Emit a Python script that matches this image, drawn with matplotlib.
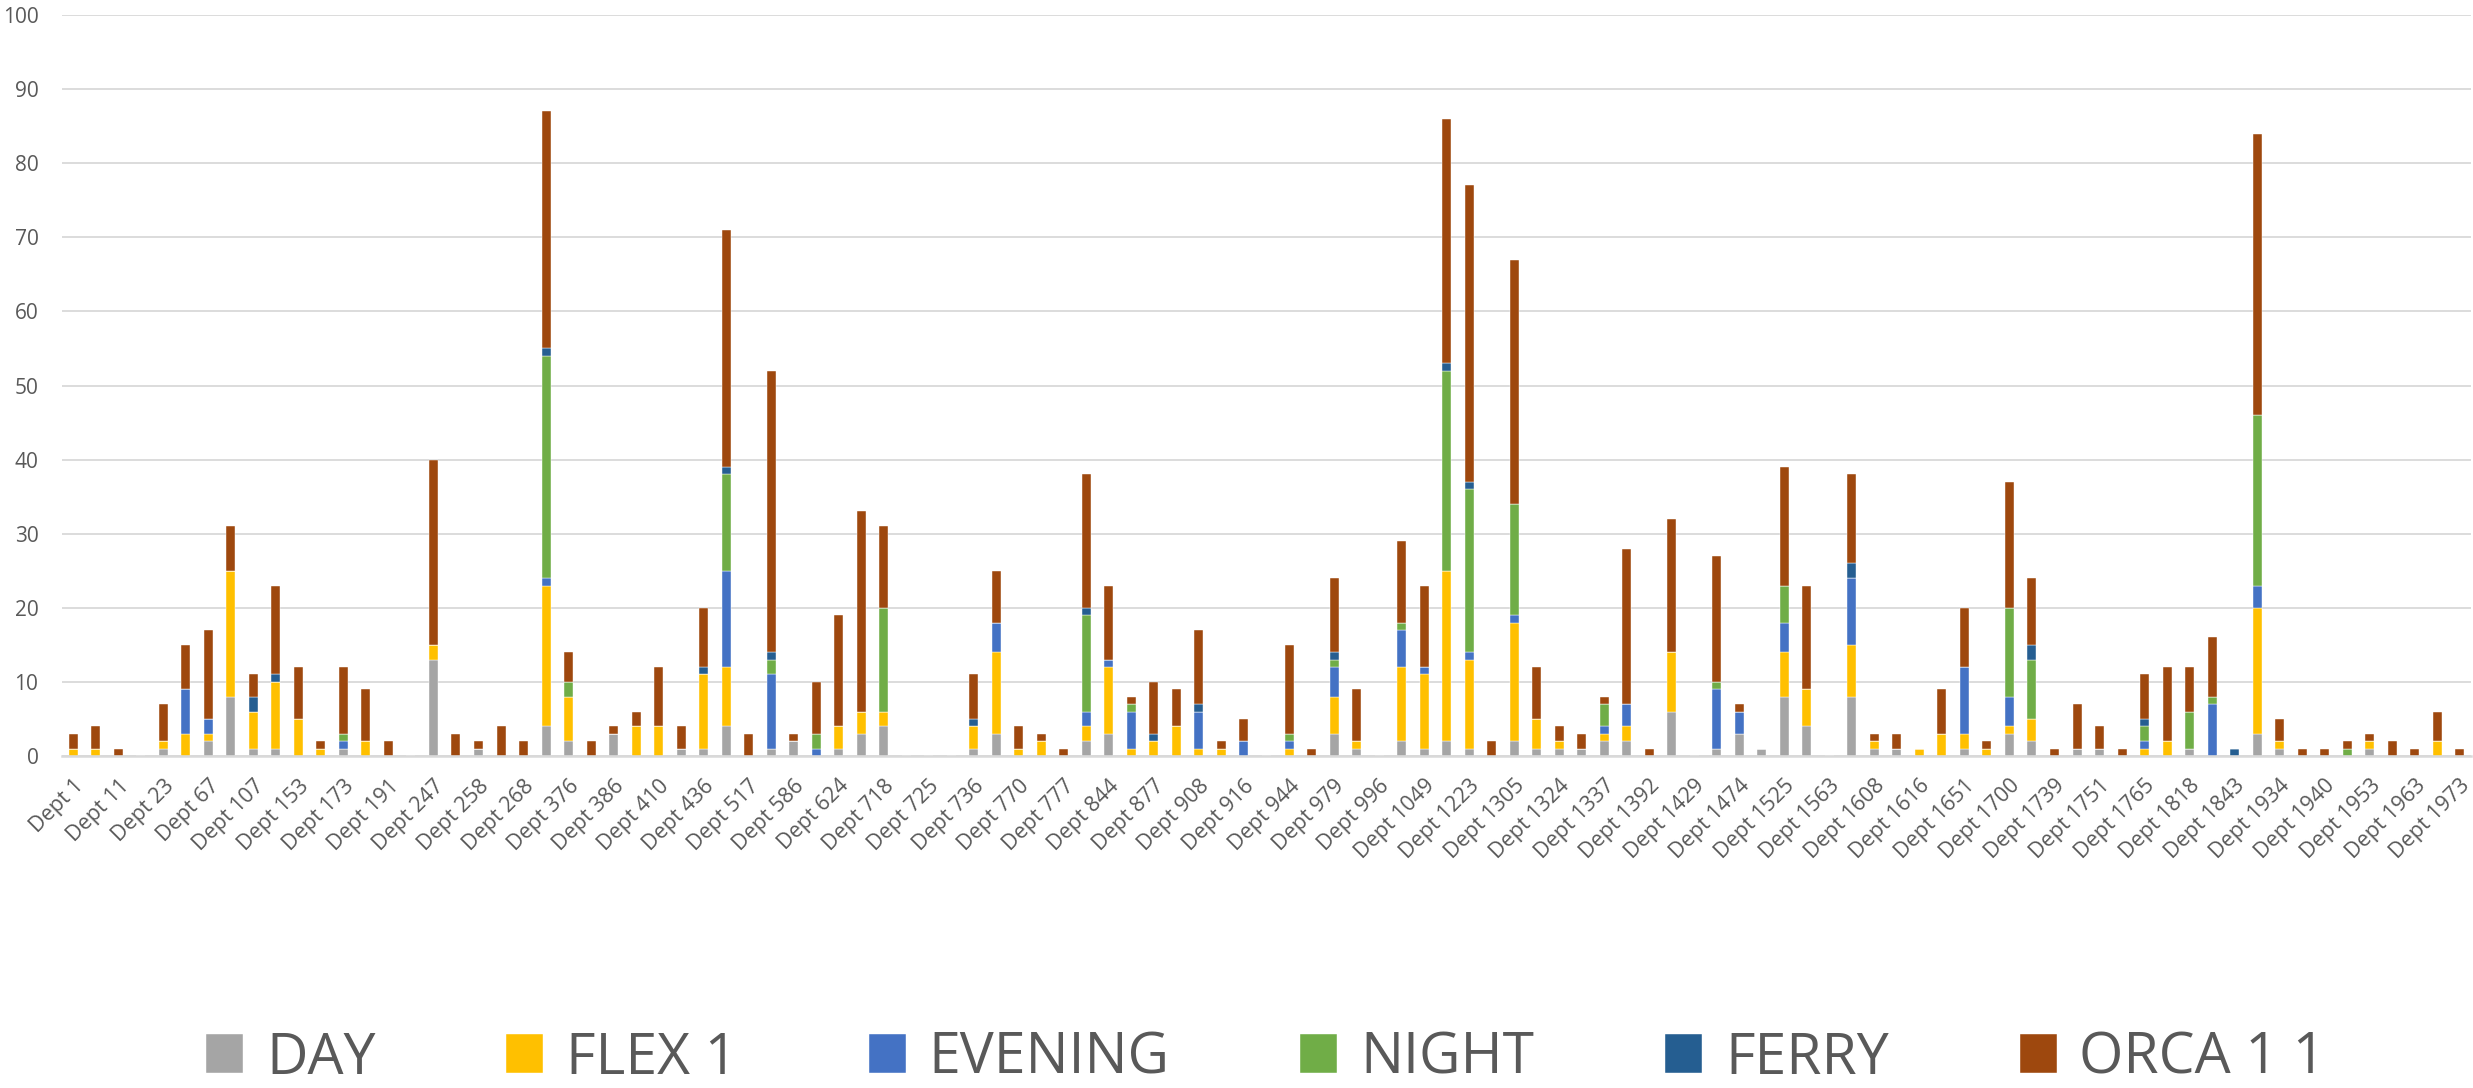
import matplotlib
matplotlib.use("Agg")
import matplotlib.pyplot as plt
import numpy as np

plt.rcParams['font.family'] = ['Open Sans', 'DejaVu Sans']

categories = [
    "Dept 1", "Dept 5", "Dept 11", "Dept 19", "Dept 23", "Dept 45", "Dept 67", "Dept 89", "Dept 107", "Dept 130",
    "Dept 153", "Dept 160", "Dept 173", "Dept 180", "Dept 191", "Dept 220", "Dept 247", "Dept 250", "Dept 258", "Dept 262",
    "Dept 268", "Dept 300", "Dept 376", "Dept 380", "Dept 386", "Dept 400", "Dept 410", "Dept 420", "Dept 436", "Dept 480",
    "Dept 517", "Dept 550", "Dept 586", "Dept 600", "Dept 624", "Dept 700", "Dept 718", "Dept 720", "Dept 725", "Dept 730",
    "Dept 736", "Dept 750", "Dept 770", "Dept 773", "Dept 777", "Dept 800", "Dept 844", "Dept 860", "Dept 877", "Dept 890",
    "Dept 908", "Dept 912", "Dept 916", "Dept 930", "Dept 944", "Dept 960", "Dept 979", "Dept 990", "Dept 996", "Dept 1020",
    "Dept 1049", "Dept 1150", "Dept 1223", "Dept 1260", "Dept 1305", "Dept 1310", "Dept 1324", "Dept 1330", "Dept 1337", "Dept 1360",
    "Dept 1392", "Dept 1410", "Dept 1429", "Dept 1450", "Dept 1474", "Dept 1500", "Dept 1525", "Dept 1540", "Dept 1563", "Dept 1590",
    "Dept 1608", "Dept 1612", "Dept 1616", "Dept 1630", "Dept 1651", "Dept 1680", "Dept 1700", "Dept 1720", "Dept 1739", "Dept 1745",
    "Dept 1751", "Dept 1760", "Dept 1765", "Dept 1790", "Dept 1818", "Dept 1830", "Dept 1843", "Dept 1900", "Dept 1934", "Dept 1937",
    "Dept 1940", "Dept 1945", "Dept 1953", "Dept 1958", "Dept 1963", "Dept 1970", "Dept 1973",
]

day = [0, 0, 0, 0, 1, 0, 2, 8, 1, 1,
       0, 0, 1, 0, 0, 0, 13, 0, 1, 0,
       0, 4, 2, 0, 3, 0, 0, 1, 1, 4,
       0, 1, 2, 0, 1, 3, 4, 0, 0, 0,
       1, 3, 0, 0, 0, 2, 3, 0, 0, 0,
       0, 0, 0, 0, 0, 0, 3, 1, 0, 2,
       1, 2, 1, 0, 2, 1, 1, 1, 2, 2,
       0, 6, 0, 1, 3, 1, 8, 4, 0, 8,
       1, 1, 0, 0, 1, 0, 3, 2, 0, 1,
       1, 0, 0, 0, 1, 0, 0, 3, 1, 0,
       0, 0, 1, 0, 0, 0, 0]

flex1 = [1, 1, 0, 0, 1, 3, 1, 17, 5, 9,
         5, 1, 0, 2, 0, 0, 2, 0, 0, 0,
         0, 19, 6, 0, 0, 4, 4, 0, 10, 8,
         0, 0, 0, 0, 3, 3, 2, 0, 0, 0,
         3, 11, 1, 2, 0, 2, 9, 1, 2, 4,
         1, 1, 0, 0, 1, 0, 5, 1, 0, 10,
         10, 23, 12, 0, 16, 4, 1, 0, 1, 2,
         0, 8, 0, 0, 0, 0, 6, 5, 0, 7,
         1, 0, 1, 3, 2, 1, 1, 3, 0, 0,
         0, 0, 1, 2, 0, 0, 0, 17, 1, 0,
         0, 0, 1, 0, 0, 2, 0]

evening = [0, 0, 0, 0, 0, 6, 2, 0, 0, 0,
           0, 0, 1, 0, 0, 0, 0, 0, 0, 0,
           0, 1, 0, 0, 0, 0, 0, 0, 0, 13,
           0, 10, 0, 1, 0, 0, 0, 0, 0, 0,
           0, 4, 0, 0, 0, 2, 1, 5, 0, 0,
           5, 0, 2, 0, 1, 0, 4, 0, 0, 5,
           1, 0, 1, 0, 1, 0, 0, 0, 1, 3,
           0, 0, 0, 8, 3, 0, 4, 0, 0, 9,
           0, 0, 0, 0, 9, 0, 4, 0, 0, 0,
           0, 0, 1, 0, 0, 7, 0, 3, 0, 0,
           0, 0, 0, 0, 0, 0, 0]

night = [0, 0, 0, 0, 0, 0, 0, 0, 0, 0,
         0, 0, 1, 0, 0, 0, 0, 0, 0, 0,
         0, 30, 2, 0, 0, 0, 0, 0, 0, 13,
         0, 2, 0, 2, 0, 0, 14, 0, 0, 0,
         0, 0, 0, 0, 0, 13, 0, 1, 0, 0,
         0, 0, 0, 0, 1, 0, 1, 0, 0, 1,
         0, 27, 22, 0, 15, 0, 0, 0, 3, 0,
         0, 0, 0, 1, 0, 0, 5, 0, 0, 0,
         0, 0, 0, 0, 0, 0, 12, 8, 0, 0,
         0, 0, 2, 0, 5, 1, 0, 23, 0, 0,
         0, 1, 0, 0, 0, 0, 0]

ferry = [0, 0, 0, 0, 0, 0, 0, 0, 2, 1,
         0, 0, 0, 0, 0, 0, 0, 0, 0, 0,
         0, 1, 0, 0, 0, 0, 0, 0, 1, 1,
         0, 1, 0, 0, 0, 0, 0, 0, 0, 0,
         1, 0, 0, 0, 0, 1, 0, 0, 1, 0,
         1, 0, 0, 0, 0, 0, 1, 0, 0, 0,
         0, 1, 1, 0, 0, 0, 0, 0, 0, 0,
         0, 0, 0, 0, 0, 0, 0, 0, 0, 2,
         0, 0, 0, 0, 0, 0, 0, 2, 0, 0,
         0, 0, 1, 0, 0, 0, 1, 0, 0, 0,
         0, 0, 0, 0, 0, 0, 0]

orca11 = [2, 3, 1, 0, 5, 6, 12, 6, 3, 12,
          7, 1, 9, 7, 2, 0, 25, 3, 1, 4,
          2, 32, 4, 2, 1, 2, 8, 3, 8, 32,
          3, 38, 1, 7, 15, 27, 11, 0, 0, 0,
          6, 7, 3, 1, 1, 18, 10, 1, 7, 5,
          10, 1, 3, 0, 12, 1, 10, 7, 0, 11,
          11, 33, 40, 2, 33, 7, 2, 2, 1, 21,
          1, 18, 0, 17, 1, 0, 16, 14, 0, 12,
          1, 2, 0, 6, 8, 1, 17, 9, 1, 6,
          3, 1, 6, 10, 6, 8, 0, 38, 3, 1,
          1, 1, 1, 2, 1, 4, 1]

series_names = ["DAY", "FLEX 1", "EVENING", "NIGHT", "FERRY", "ORCA 1 1"]
series_values = [day, flex1, evening, night, ferry, orca11]
series_colors = ["#A5A5A5", "#FFC000", "#4472C4", "#70AD47", "#255E91", "#9E480E"]

W, H = 2473, 1088
fig = plt.figure(figsize=(W / 100, H / 100), dpi=100)
ax = fig.add_axes([62 / W, 1 - 756 / H, (2471 - 62) / W, (756 - 15) / H])

x = np.arange(len(categories))
bottom = np.zeros(len(categories))
handles = []
for name, vals, col in zip(series_names, series_values, series_colors):
    v = np.array(vals, dtype=float)
    b = ax.bar(x, v, width=0.4, bottom=bottom, color=col, label=name,
               edgecolor="white", linewidth=0.3)
    handles.append(b)
    bottom += v

ax.set_xlim(-0.5, len(categories) - 0.5)
ax.set_ylim(0, 100)
ax.set_yticks(np.arange(0, 101, 10))
ax.yaxis.grid(True, color="#D9D9D9", linewidth=1.3)
ax.set_axisbelow(True)
for s in ["top", "right", "left"]:
    ax.spines[s].set_visible(False)
ax.spines["bottom"].set_color("#D9D9D9")
ax.spines["bottom"].set_linewidth(1.8)

ax.tick_params(axis="both", length=0, colors="#595959", labelsize=15)
ax.tick_params(axis="y", pad=17)
ax.set_xticks(x[::2])
ax.set_xticklabels(categories[::2], rotation=45, ha="right",
                   rotation_mode="anchor", fontsize=15.5, color="#595959")
ax.tick_params(axis="x", pad=14)

leg = fig.legend(handles=handles, labels=series_names, loc="center",
                 bbox_to_anchor=(1266 / W, 1 - 1059 / H), ncol=6,
                 frameon=False, fontsize=41, handlelength=0.65, handleheight=0.65,
                 handletextpad=0.4, columnspacing=2.3, borderaxespad=0)
for t in leg.get_texts():
    t.set_color("#595959")

fig.savefig("out.png", dpi=100)
